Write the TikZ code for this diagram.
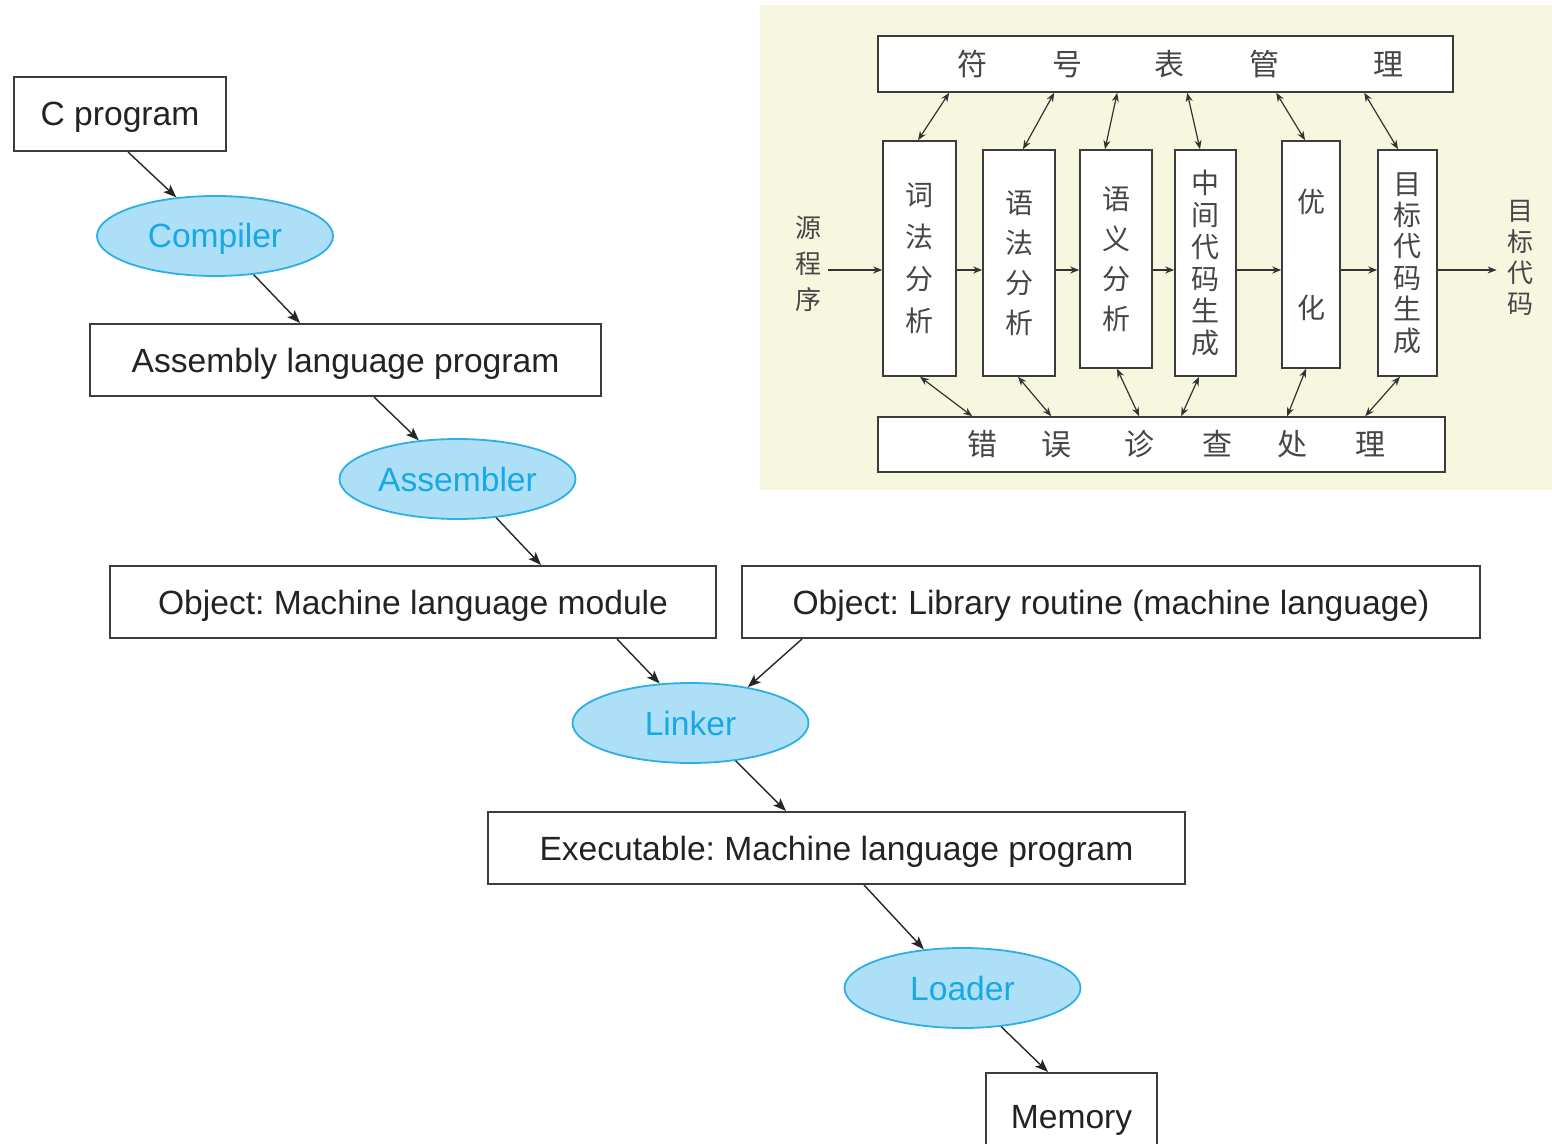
\documentclass[tikz,border=0pt]{standalone}
\usepackage{fontspec}
\setmainfont{Liberation Sans}
\newfontfamily\cjk{Noto Sans CJK SC}
\usetikzlibrary{arrows.meta,calc,shapes.geometric}
\frenchspacing

\definecolor{ellfill}{RGB}{173,223,247}
\definecolor{elldraw}{RGB}{45,175,230}
\definecolor{elltext}{RGB}{25,168,230}
\definecolor{boxline}{RGB}{60,60,60}
\definecolor{txt}{RGB}{35,35,35}
\definecolor{panel}{RGB}{246,247,222}
\definecolor{cntxt}{RGB}{70,70,70}

\begin{document}
\frenchspacing
\begin{tikzpicture}[x=0.5pt,y=-0.5pt,
 stagebox/.style={draw=boxline, line width=1pt, fill=white, inner sep=0pt, text=txt, text height=12pt, text depth=0pt, font=\fontsize{16.8}{20}\selectfont},
 tool/.style={ellipse, draw=elldraw, line width=0.9pt, fill=ellfill, inner sep=0pt, minimum width=118pt, minimum height=40pt, text=elltext, text height=12pt, text depth=0pt, font=\fontsize{16.8}{20}\selectfont},
 flow/.style={draw=black!85, line width=0.7pt, -{Stealth[length=6.5pt,width=5pt,inset=1.5pt]}},
 cnbar/.style={draw=boxline, line width=0.8pt, fill=white, inner sep=0pt, text=cntxt, font=\cjk\fontsize{15}{18}\selectfont},
 cnbox/.style={draw=boxline, line width=0.8pt, fill=white, inner sep=0pt, align=center, text=cntxt},
 cnlabel/.style={inner sep=0pt, align=center, text=cntxt},
 cnarrow/.style={draw=black!80, line width=0.6pt, -{Stealth[length=4.5pt,width=3.5pt]}},
 cnboth/.style={draw=black!80, line width=0.6pt, {Stealth[length=4.5pt,width=3.5pt]}-{Stealth[length=4.5pt,width=3.5pt]}},
]
\clip (0,0) rectangle (1552,1144);
\fill[white] (0,0) rectangle (1552,1144);

% ---------- left flow ----------
\node[stagebox, minimum width=106pt, minimum height=37pt] (cprog) at (120,114) {C program};
\node[tool] (comp) at (215,236) {Compiler};
\node[stagebox, minimum width=255.5pt, minimum height=36pt] (asm) at (345.5,360) {Assembly language program};
\node[tool] (asmr) at (457.5,479) {Assembler};
\node[stagebox, minimum width=303pt, minimum height=36pt] (obj1) at (413,602) {Object: Machine language module};
\node[stagebox, minimum width=369pt, minimum height=36pt] (obj2) at (1111,602) {Object: Library routine (machine language)};
\node[tool] (link) at (690.5,723) {Linker};
\node[stagebox, minimum width=348.5pt, minimum height=36pt] (exec) at (836.5,848) {Executable: Machine language program};
\node[tool] (load) at (962.5,988) {Loader};
\node[stagebox, minimum width=85.5pt, minimum height=43.5pt] (mem) at (1071.5,1116.5) {Memory};

\draw[flow] ($(cprog.south)+(8,0)$) -- (comp.135);
\draw[flow] (comp.-45) -- ($(asm.north)+(-45.5,0)$);
\draw[flow] ($(asm.south)+(28.5,0)$) -- (asmr.135);
\draw[flow] (asmr.-45) -- ($(obj1.north)+(128,0)$);
\draw[flow] ($(obj1.south)+(204,0)$) -- (link.128);
\draw[flow] ($(obj2.south)+(-309,0)$) -- (link.32);
\draw[flow] (link.-40) -- ($(exec.north)+(-50.5,0)$);
\draw[flow] ($(exec.south)+(27.5,0)$) -- (load.135);
\draw[flow] (load.-45) -- ($(mem.north)+(-23.5,0)$);

% ---------- right panel ----------
\fill[panel] (760,5) rectangle (1552,490);

\node[cnbar, minimum width=287.5pt, minimum height=28pt] (top) at (1165.5,64)
  {\hspace*{14.5pt}符\hspace{33pt}号\hspace{36pt}表\hspace{32.5pt}管\hspace{46.5pt}理};
\node[cnbar, minimum width=283.5pt, minimum height=27.5pt] (bot) at (1161.5,444.5)
  {\hspace*{14.5pt}错\hspace{22.5pt}误\hspace{26.5pt}诊\hspace{24pt}查\hspace{22.5pt}处\hspace{23.5pt}理};

\node[cnbox, minimum width=36.5pt, minimum height=117.5pt, font=\cjk\fontsize{14}{21}\selectfont] (b1) at (919.5,258.5) {词\\法\\分\\析};
\node[cnbox, minimum width=36pt, minimum height=113pt, font=\cjk\fontsize{14}{20}\selectfont] (b2) at (1019,263) {语\\法\\分\\析};
\node[cnbox, minimum width=36pt, minimum height=109pt, font=\cjk\fontsize{14}{20}\selectfont] (b3) at (1116,259) {语\\义\\分\\析};
\node[cnbox, minimum width=30.5pt, minimum height=113pt, font=\cjk\fontsize{14}{16}\selectfont] (b4) at (1205.5,263) {中\\间\\代\\码\\生\\成};
\node[cnbox, minimum width=29pt, minimum height=113.5pt, font=\cjk\fontsize{14}{53}\selectfont] (b5) at (1311,254.5) {优\\化};
\node[cnbox, minimum width=29.5pt, minimum height=113pt, font=\cjk\fontsize{14}{15.7}\selectfont] (b6) at (1407.5,263) {目\\标\\代\\码\\生\\成};

\node[cnlabel, font=\cjk\fontsize{13}{18}\selectfont] (src) at (808,264) {源\\程\\序};
\node[cnlabel, font=\cjk\fontsize{13}{15.5}\selectfont] (tgt) at (1520,258) {目\\标\\代\\码};

% horizontal flow
\draw[cnarrow] ($(src.east)+(7,6)$) -- ($(b1.west)+(0,11.5)$);
\draw[cnarrow] ($(b1.east)+(0,11.5)$) -- ($(b2.west)+(0,7)$);
\draw[cnarrow] ($(b2.east)+(0,7)$) -- ($(b3.west)+(0,11)$);
\draw[cnarrow] ($(b3.east)+(0,11)$) -- ($(b4.west)+(0,7)$);
\draw[cnarrow] ($(b4.east)+(0,7)$) -- ($(b5.west)+(0,15.5)$);
\draw[cnarrow] ($(b5.east)+(0,15.5)$) -- ($(b6.west)+(0,7)$);
\draw[cnarrow] ($(b6.east)+(0,7)$) -- ($(tgt.west)+(-10,12)$);

% symbol table links
\draw[cnboth] ($(top.south west)+(72,0)$) -- ($(b1.north)+(-1.5,0)$);
\draw[cnboth] ($(top.south west)+(177,0)$) -- ($(b2.north)+(4,0)$);
\draw[cnboth] ($(top.south west)+(240,0)$) -- ($(b3.north)+(-11,0)$);
\draw[cnboth] ($(top.south west)+(310,0)$) -- ($(b4.north)+(-5.5,0)$);
\draw[cnboth] ($(top.south west)+(399,0)$) -- ($(b5.north)+(-6,0)$);
\draw[cnboth] ($(top.south west)+(487,0)$) -- ($(b6.north)+(-9.5,0)$);

% error handling links
\draw[cnboth] ($(bot.north west)+(95,0)$) -- ($(b1.south)+(0.5,0)$);
\draw[cnboth] ($(bot.north west)+(174,0)$) -- ($(b2.south)+(-1,0)$);
\draw[cnboth] ($(bot.north west)+(262,0)$) -- ($(b3.south)+(1,0)$);
\draw[cnboth] ($(bot.north west)+(304,0)$) -- ($(b4.south)+(-6.5,0)$);
\draw[cnboth] ($(bot.north west)+(410,0)$) -- ($(b5.south)+(-5,0)$);
\draw[cnboth] ($(bot.north west)+(488,0)$) -- ($(b6.south)+(-7.5,0)$);
\end{tikzpicture}
\end{document}
